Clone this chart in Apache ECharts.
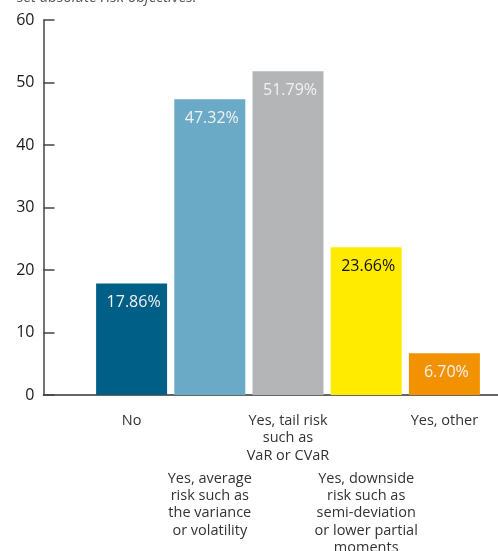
<!DOCTYPE html>
<html>
<head>
<meta charset="utf-8">
<script src="https://cdn.jsdelivr.net/npm/echarts@6/dist/echarts.min.js"></script>
<style>
  html, body { margin: 0; padding: 0; background: #fff; }
  #chart { width: 498px; height: 551px; }
</style>
</head>
<body>
<div id="chart"></div>
<script>
// Answer categories (line breaks as printed under each bar)
const categories = [
  'No',
  'Yes, average\nrisk such as\nthe variance\nor volatility',
  'Yes, tail risk\nsuch as\nVaR or CVaR',
  'Yes, downside\nrisk such as\nsemi-deviation\nor lower partial\nmoments',
  'Yes, other'
];
// Share of respondents, in percent
const shares = [17.86, 47.32, 51.79, 23.66, 6.70];
const barColors = ['#005f87', '#6aaac6', '#b4b5b7', '#ffeb00', '#f39200'];
const labelColors = ['#f2f2f2', '#f2f2f2', '#f2f2f2', '#111111', '#f2f2f2'];
// Value axis ticks
const yTicks = [0, 10, 20, 30, 40, 50, 60];

const FONT = '"Open Sans", "DejaVu Sans", sans-serif';
const chart = echarts.init(document.getElementById('chart'), null, { renderer: 'canvas' });

// Alternate labels drop below the neighbouring ones so long texts don't collide
function categoryLabel(value, index) {
  const lines = value.split('\n').map(l => '{t|' + l + '}').join('\n');
  return index % 2 === 1 ? '{gap| }\n' + lines : lines;
}

chart.setOption({
  animation: false,
  textStyle: { fontFamily: FONT },
  title: {
    text: 'set absolute risk objectives.',
    left: 12,
    top: -15,
    textStyle: { fontFamily: FONT, fontSize: 15, fontStyle: 'italic', fontWeight: 'normal', color: '#555' }
  },
  grid: [
    { left: 92.5, right: 14.5, top: 20, bottom: 156, outerBoundsMode: 'none', containLabel: false },
    { left: 43.5, right: 0, top: 20, bottom: 156, outerBoundsMode: 'none', containLabel: false }
  ],
  xAxis: [
    {
      gridIndex: 0,
      type: 'category',
      data: categories,
      axisLine: { show: false },
      axisTick: { show: false },
      axisLabel: {
        interval: 0,
        margin: 17,
        formatter: categoryLabel,
        rich: {
          t: { fontFamily: FONT, fontSize: 14.5, color: '#333', lineHeight: 17.4, align: 'center' },
          gap: { fontSize: 1, lineHeight: 57.7, height: 57.7 }
        }
      }
    },
    {
      gridIndex: 1,
      type: 'value',
      min: 0,
      max: 1,
      axisLine: { show: true, lineStyle: { color: '#333', width: 1.5 } },
      axisTick: { show: false },
      axisLabel: { show: false },
      splitLine: { show: false }
    }
  ],
  yAxis: [
    { gridIndex: 0, type: 'value', min: 0, max: 60, show: false },
    {
      gridIndex: 1,
      type: 'value',
      min: yTicks[0],
      max: yTicks[yTicks.length - 1],
      interval: 10,
      axisLine: { show: true, lineStyle: { color: '#444', width: 1.5 } },
      axisTick: { show: true, inside: true, length: 11, lineStyle: { color: '#444', width: 1.5 } },
      axisLabel: { margin: 9, padding: [4, 0, 0, 0], fontFamily: FONT, fontSize: 16, color: '#1a1a1a' },
      splitLine: { show: false }
    }
  ],
  series: [{
    type: 'bar',
    xAxisIndex: 0,
    yAxisIndex: 0,
    barWidth: 71,
    data: shares.map((v, i) => ({
      value: v,
      itemStyle: { color: barColors[i] },
      label: { color: labelColors[i] }
    })),
    label: {
      show: true,
      position: 'insideTop',
      distance: 11,
      offset: [2, 0],
      fontFamily: FONT,
      fontSize: 16,
      formatter: p => p.value.toFixed(2) + '%'
    }
  }]
});
</script>
</body>
</html>
